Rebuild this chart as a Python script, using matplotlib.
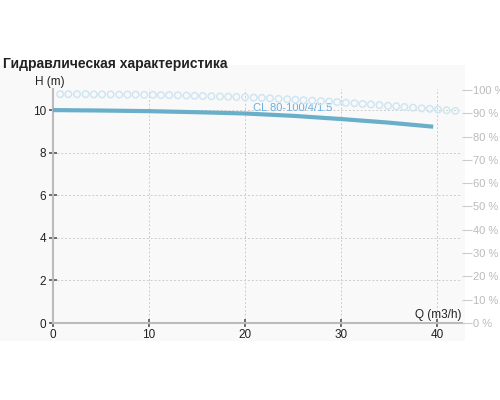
import matplotlib
matplotlib.use("Agg")
import matplotlib.pyplot as plt
from matplotlib.patches import Rectangle

plt.rcParams['font.family'] = ['Liberation Sans', 'DejaVu Sans']

title = "Гидравлическая характеристика"
curve_label = "CL 80-100/4/1.5"

# Head curve
q_head = [0, 5, 10, 15, 20, 25, 30, 35, 39.6]
h_head = [10.0, 9.98, 9.95, 9.9, 9.84, 9.73, 9.58, 9.41, 9.22]

# Efficiency circles
q_eff = [0.75, 1.6, 2.5, 3.4, 4.25, 5.1, 6.0, 6.9, 7.75, 8.6, 9.5, 10.4,
         11.25, 12.1, 13.0, 13.9, 14.75, 15.6, 16.5, 17.4, 18.25, 19.1, 20.0,
         20.9, 21.75, 22.6, 23.5, 24.4, 25.25, 26.1, 27.0, 27.9, 28.75, 29.6,
         30.5, 31.4, 32.25, 33.1, 34.0, 34.9, 35.75, 36.6, 37.5, 38.4, 39.25,
         40.1, 41.0, 41.9]
eff = [98.2, 98.2, 98.2, 98.2, 98.1, 98.1, 98.1, 98.0, 98.0, 98.0, 97.9, 97.9,
       97.8, 97.8, 97.7, 97.6, 97.5, 97.4, 97.3, 97.2, 97.1, 97.0, 96.9,
       96.7, 96.6, 96.4, 96.2, 96.0, 95.8, 95.6, 95.4, 95.2, 95.0, 94.8,
       94.5, 94.3, 94.0, 93.8, 93.5, 93.2, 93.0, 92.7, 92.4, 92.1, 91.9,
       91.6, 91.3, 91.0]

x_ticks = [0, 10, 20, 30, 40]
y_ticks = [0, 2, 4, 6, 8, 10]
eff_ticks = [0, 10, 20, 30, 40, 50, 60, 70, 80, 90, 100]

fig = plt.figure(figsize=(5, 4), dpi=100)
fig.patches.append(Rectangle((0, 0.1475), 0.93, 0.69, transform=fig.transFigure,
                             facecolor="#f9f9f9", edgecolor="none", zorder=-10))
fig.text(0.006, 0.83, title, fontsize=10, fontweight="bold", color="#222222",
         va="baseline", ha="left")

ax = fig.add_axes([0.106, 0.1925, 0.818, 0.5855])
ax.patch.set_alpha(0)
ax.set_xlim(0, 42.6)
ax.set_ylim(0, 11.0)

ax.set_xticks(x_ticks)
ax.set_yticks(y_ticks)
ax.grid(True, color="#cccccc", linestyle=(0, (2, 2)), linewidth=0.7)
for s in ["top", "right"]:
    ax.spines[s].set_visible(False)
for s in ["left", "bottom"]:
    ax.spines[s].set_color("#bbbbbb")
    ax.spines[s].set_linewidth(1.5)
ax.tick_params(axis="both", direction="inout", length=6, width=1.2, color="#555555",
               labelsize=8.5, labelcolor="#222222")
ax.tick_params(axis="x", pad=1)
ax.tick_params(axis="y", pad=2)

ax.plot(q_head, h_head, color="#6aafc9", linewidth=3, solid_capstyle="butt", zorder=3)

ax.text(-0.3, 11.05, "H (m)", fontsize=8.5, color="#222222", ha="center", va="bottom")
ax.text(42.6, 0.1, "Q (m3/h)", fontsize=8.5, color="#222222", ha="right", va="bottom")

# Label with leader line
ax.annotate(curve_label, xy=(20.0, 9.84), xytext=(20.8, 10.12), fontsize=8,
            color="#6aaee0", ha="left", va="center",
            arrowprops=dict(arrowstyle="-", color="#999999", linewidth=0.6,
                            shrinkA=0, shrinkB=0))

ax2 = ax.twinx()
ax2.set_ylim(0, 100.5)
ax2.set_yticks(eff_ticks)
ax2.set_yticklabels([f"{v} %" for v in eff_ticks])
for s in ax2.spines.values():
    s.set_visible(False)
ax2.tick_params(axis="y", direction="out", length=7, width=0.8, color="#cccccc",
                labelsize=8, labelcolor="#bbbbbb", pad=1)
ax2.scatter(q_eff, eff, s=22, facecolors="none", edgecolors="#cfe6f2",
            linewidths=1.1, zorder=2, clip_on=False)

fig.savefig("out.png", dpi=100)
